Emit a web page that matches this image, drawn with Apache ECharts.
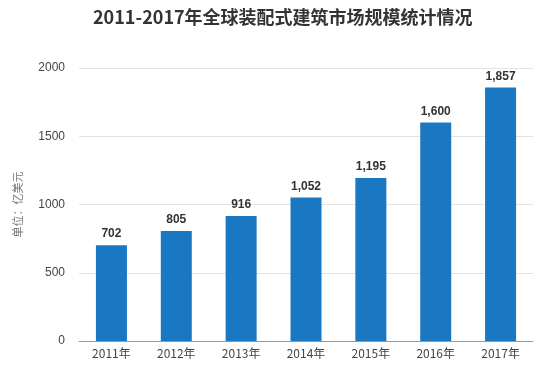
<!DOCTYPE html>
<html><head><meta charset="utf-8">
<script src="https://cdn.jsdelivr.net/npm/echarts@6/dist/echarts.min.js"></script>
<style>html,body{margin:0;padding:0;background:#fff}#c{width:541px;height:369px}</style>
</head><body><div id="c"></div>
<script>
const titleText = '2011-2017年全球装配式建筑市场规模统计情况';
const categories = ['2011年','2012年','2013年','2014年','2015年','2016年','2017年'];
const values = [702, 805, 916, 1052, 1195, 1600, 1857];
const yTicks = [0, 500, 1000, 1500, 2000];
const yName = '单位：亿美元';

const chart = echarts.init(document.getElementById('c'));
chart.setOption({
  animation: false,
  title: { text: titleText, left: 88, top: 3,
    textStyle: { fontSize: 18, fontWeight: 'bold', color: '#333', fontFamily: 'Noto Sans CJK SC' } },
  grid: { left: 79, right: 8, top: 68, bottom: 28 },
  xAxis: { type: 'category', data: categories,
    axisLine: { lineStyle: { color: '#999' } },
    axisTick: { alignWithLabel: true, lineStyle: { color: '#999' } },
    axisLabel: { color: '#444', fontSize: 12, margin: 6, fontFamily: 'Noto Sans CJK SC' } },
  yAxis: { type: 'value', min: yTicks[0], max: yTicks[yTicks.length-1], interval: 500,
    name: yName, nameLocation: 'middle', nameGap: 56, nameRotate: 90,
    nameTextStyle: { color: '#777', fontSize: 11, fontFamily: 'Noto Sans CJK SC' },
    axisLine: { show: false }, axisTick: { show: false },
    axisLabel: { color: '#444', fontSize: 12, margin: 14, formatter: v => String(v) },
    splitLine: { lineStyle: { color: '#e3e3e3' } } },
  series: [{ type: 'bar', data: values, barWidth: 31,
    itemStyle: { color: '#1a78c2' },
    label: { show: true, position: 'top', color: '#333', fontWeight: 'bold', fontSize: 12,
      formatter: p => p.value.toLocaleString('en-US') } }]
});
</script></body></html>
